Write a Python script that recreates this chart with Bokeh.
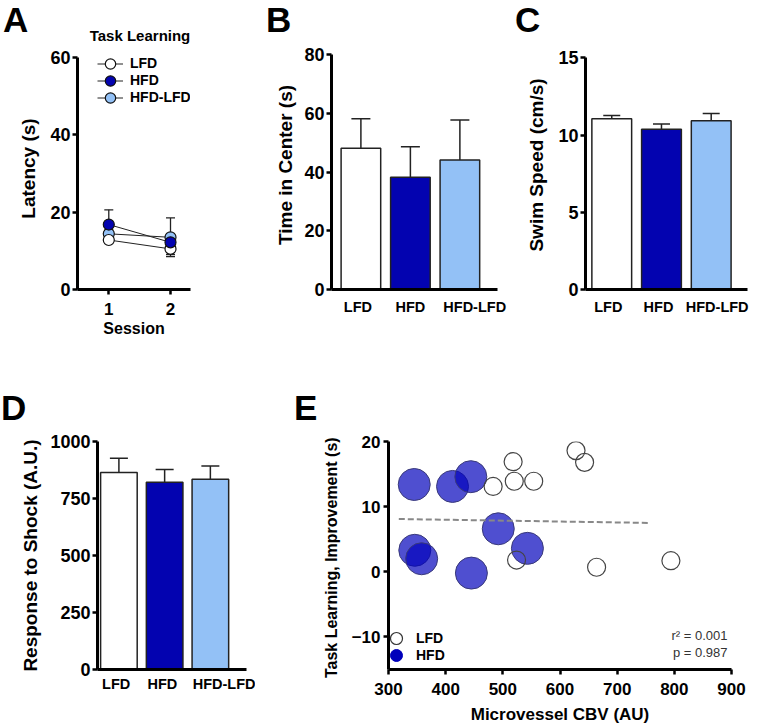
import numpy as np
from bokeh.plotting import figure
from bokeh.models import Range1d, FixedTicker, Label, Legend, LegendItem, Div
from bokeh.layouts import row, column
from bokeh.embed import file_html
from bokeh.resources import INLINE

FONT = "Liberation Sans"

# ---------------- data ----------------
groups = ["LFD", "HFD", "HFD-LFD"]
group_pos = [1, 2, 3]
group_colors = ["#ffffff", "#0303b0", "#93c1f6"]

# A: task learning latency by session
sessions = [1, 2]
lat_lfd = [12.8, 10.5]
lat_lfd_err = [0.8, 1.5]
lat_hfd = [16.8, 12.2]
lat_hfd_err = [3.8, 1.0]
lat_hfdlfd = [14.4, 13.5]
lat_hfdlfd_err = [1.0, 5.0]
a_yticks = [0, 20, 40, 60]

# B: time in center
center_time = [48.1, 38.2, 44.1]
center_err = [10.0, 10.4, 13.6]
b_yticks = [0, 20, 40, 60, 80]

# C: swim speed
swim_speed = [11.05, 10.37, 10.93]
swim_err = [0.21, 0.35, 0.47]
c_yticks = [0, 5, 10, 15]

# D: response to shock
shock = [864, 821, 834]
shock_err = [62, 56, 59]
d_yticks = [0, 250, 500, 750, 1000]

# E: CBV vs improvement
lfd_cbv = [628, 643, 518, 520, 554, 483, 524, 664, 794]
lfd_impr = [18.6, 16.8, 16.9, 13.9, 13.9, 13.1, 1.8, 0.7, 1.7]
hfd_cbv = [345, 412, 444, 492, 346, 358, 445, 543]
hfd_impr = [13.4, 13.1, 14.6, 6.6, 3.3, 2.0, -0.2, 3.6]
fit_x = [318, 757]
fit_y = [8.1, 7.5]
e_xticks = [300, 400, 500, 600, 700, 800, 900]
e_yticks = [-10, 0, 10, 20]
stats_r2 = "r\u00b2 = 0.001"
stats_p = "p = 0.987"


def make_fig(w, h, l, r, t, b, xr, yr):
    p = figure(width=w, height=h, x_range=Range1d(*xr), y_range=Range1d(*yr),
               output_backend="svg", toolbar_location=None,
               min_border_left=l, min_border_right=r, min_border_top=t, min_border_bottom=b)
    p.outline_line_color = None
    p.grid.visible = False
    p.background_fill_color = "white"
    p.border_fill_color = "white"
    return p


def style_axis(ax, ticks, tick_size, label_size, has_ticks=True, tick_standoff=2, label_standoff=6):
    ax.ticker = FixedTicker(ticks=ticks)
    ax.axis_line_width = 3
    ax.axis_line_color = "black"
    ax.major_tick_line_width = 2.5
    ax.major_tick_line_color = "black" if has_ticks else None
    ax.major_tick_in = 0
    ax.major_tick_out = 5 if has_ticks else 0
    ax.minor_tick_line_color = None
    ax.major_label_text_font = FONT
    ax.major_label_text_font_style = "bold"
    ax.major_label_text_font_size = tick_size
    ax.major_label_text_color = "black"
    ax.major_label_standoff = tick_standoff
    ax.axis_label_text_font = FONT
    ax.axis_label_text_font_style = "bold"
    ax.axis_label_text_font_size = label_size
    ax.axis_label_text_color = "black"
    ax.axis_label_standoff = label_standoff


def bar_panel(p, values, errs, cap, label_shift, standoff):
    p.vbar(x=group_pos, top=values, bottom=0, width=0.8, fill_color=group_colors,
           line_color="#222222", line_width=1.5)
    tops = [v + e for v, e in zip(values, errs)]
    p.segment(x0=group_pos, y0=values, x1=group_pos, y1=tops, line_color="#222222", line_width=1.5)
    p.scatter(x=group_pos, y=tops, marker="dash", size=cap, line_color="#222222", line_width=1.5)
    label_pos = [g + s for g, s in zip(group_pos, label_shift)]
    style_axis(p.xaxis[0], label_pos, "14.5px", "15px", has_ticks=False, tick_standoff=standoff)
    p.xaxis.major_label_overrides = {lp: g for lp, g in zip(label_pos, groups)}


def one_item_legend(p, label, renderers, loc, gw, gh, standoff):
    leg = Legend(items=[LegendItem(label=label, renderers=renderers)], location=loc,
                 glyph_width=gw, glyph_height=gh, label_standoff=standoff, padding=0, margin=0,
                 spacing=0, label_height=gh, border_line_color=None, background_fill_alpha=0,
                 label_text_font=FONT, label_text_font_style="bold",
                 label_text_font_size="14px", label_text_color="black")
    p.add_layout(leg)


def span(text, left, top, size, lh, width=None):
    w = f"width:{width}px;text-align:center;" if width else ""
    return (f'<div style="position:absolute;left:{left}px;top:{top}px;{w}'
            f'font-family:\'{FONT}\';font-weight:bold;font-size:{size}px;'
            f'line-height:{lh}px;color:black;white-space:nowrap;">{text}</div>')


def strip(inner, w, h):
    html = f'<div style="position:relative;width:{w}px;height:{h}px;">' + inner + '</div>'
    return Div(text=html, width=w, height=h, margin=0)


# ---------------- A ----------------
pA = make_fig(255, 321, 77, 65, 0, 79, (0.493, 2.324), (0, 62.59))
style_axis(pA.yaxis[0], a_yticks, "18px", "19px", tick_standoff=2, label_standoff=8)
style_axis(pA.xaxis[0], sessions, "17px", "16px", tick_standoff=8, label_standoff=2)
pA.yaxis.bounds = (0, 60)
pA.xaxis.axis_label = "Session"
pA.yaxis.axis_label = "Latency (s)"

a_series = [("HFD-LFD", lat_hfdlfd, lat_hfdlfd_err, group_colors[2]),
            ("LFD", lat_lfd, lat_lfd_err, group_colors[0]),
            ("HFD", lat_hfd, lat_hfd_err, group_colors[1])]
line_r = {}
for name, vals, errs, col in a_series:
    line_r[name] = pA.line(sessions, vals, line_color="#222222", line_width=1)
for name, vals, errs, col in a_series:
    lo = [v - e for v, e in zip(vals, errs)]
    hi = [v + e for v, e in zip(vals, errs)]
    pA.segment(x0=sessions, y0=lo, x1=sessions, y1=hi, line_color="#222222", line_width=1.3)
    pA.scatter(x=sessions + sessions, y=lo + hi, marker="dash", size=9, line_color="#222222", line_width=1.3)
mark_r = {}
for name, vals, errs, col in a_series:
    mark_r[name] = pA.scatter(sessions, vals, size=11, fill_color=col, line_color="#111111", line_width=1.2)

for g, yb in zip(groups, [212.5, 195.5, 178.5]):
    one_item_legend(pA, g, [line_r[g], mark_r[g]], (20, yb), 26, 27, 7)

# ---------------- B ----------------
pB = make_fig(255, 328, 76, 13, 0, 79, (0.406, 3.76), (0, 84.77))
style_axis(pB.yaxis[0], b_yticks, "18px", "19px", tick_standoff=2, label_standoff=5)
pB.yaxis.bounds = (0, 80)
pB.yaxis.axis_label = "Time in Center (s)"
bar_panel(pB, center_time, center_err, 19, [-0.06, 0.0, 0.30], 9)

# ---------------- C ----------------
pC = make_fig(248, 328, 75, 11, 0, 79, (0.472, 3.73), (0, 16.12))
style_axis(pC.yaxis[0], c_yticks, "18px", "19px", tick_standoff=2, label_standoff=8)
pC.yaxis.bounds = (0, 15)
pC.yaxis.axis_label = "Swim Speed (cm/s)"
bar_panel(pC, swim_speed, swim_err, 17, [-0.07, -0.06, 0.12], 9)

# ---------------- D ----------------
pD = make_fig(255, 303, 97, 9, 16, 56, (0.532, 3.79), (0, 1000))
style_axis(pD.yaxis[0], d_yticks, "18px", "19px", tick_standoff=2, label_standoff=6)
pD.yaxis.axis_label = "Response to Shock (A.U.)"
bar_panel(pD, shock, shock_err, 18, [-0.06, -0.05, 0.37], 6)

# ---------------- E ----------------
pE = make_fig(503, 303, 133, 27, 16, 59, (300, 900), (-15, 20))
style_axis(pE.yaxis[0], e_yticks, "17px", "16px", tick_standoff=3, label_standoff=9)
style_axis(pE.xaxis[0], e_xticks, "17px", "17px", tick_standoff=8, label_standoff=7)
pE.xaxis.axis_label = "Microvessel CBV (AU)"
pE.yaxis.axis_label = "Task Learning, Improvement  (s)"
pE.scatter(hfd_cbv, hfd_impr, size=32, fill_color="#0000bb", fill_alpha=0.69,
           line_color="#3a3a7a", line_width=1)
pE.scatter(lfd_cbv, lfd_impr, size=18, fill_color="white", fill_alpha=0.0,
           line_color="#444444", line_width=1.2)
pE.line(fit_x, fit_y, line_color="#888888", line_width=2, line_dash="6 3")
nan = np.array([np.nan])
leg_lfd = pE.scatter(nan, nan, size=12, fill_color="white", line_color="#333333", line_width=1.2)
leg_hfd = pE.scatter(nan, nan, size=12, fill_color="#0000bb", line_color="#0000bb", line_width=1)
one_item_legend(pE, "LFD", [leg_lfd], (-7, 16), 30, 30, 5)
one_item_legend(pE, "HFD", [leg_hfd], (-7, -1), 30, 30, 5)
for txt, yy in [(stats_r2, 34), (stats_p, 17)]:
    pE.add_layout(Label(x=339, y=yy, x_units="screen", y_units="screen", text=txt,
                        text_font=FONT, text_font_size="13px", text_align="right",
                        text_baseline="alphabetic", text_color="#333333"))

# ---------------- panel letters / header strips ----------------
divA = strip(span("A", 3, 0, 35, 40) + span("Task Learning", 80, 27, 15, 18, width=120), 255, 47)
divB = strip(span("B", 11, 0, 35, 40), 255, 40)
divC = strip(span("C", 5, 0, 35, 40), 248, 40)
divDE = strip(span("D", 1, 20, 35, 40) + span("E", 294, 20, 35, 40), 758, 57)

top_row = row(column(divA, pA), column(divB, pB), column(divC, pC))
layout = column(top_row, divDE, row(pD, pE))
open("out.html", "w").write(file_html(layout, INLINE))
